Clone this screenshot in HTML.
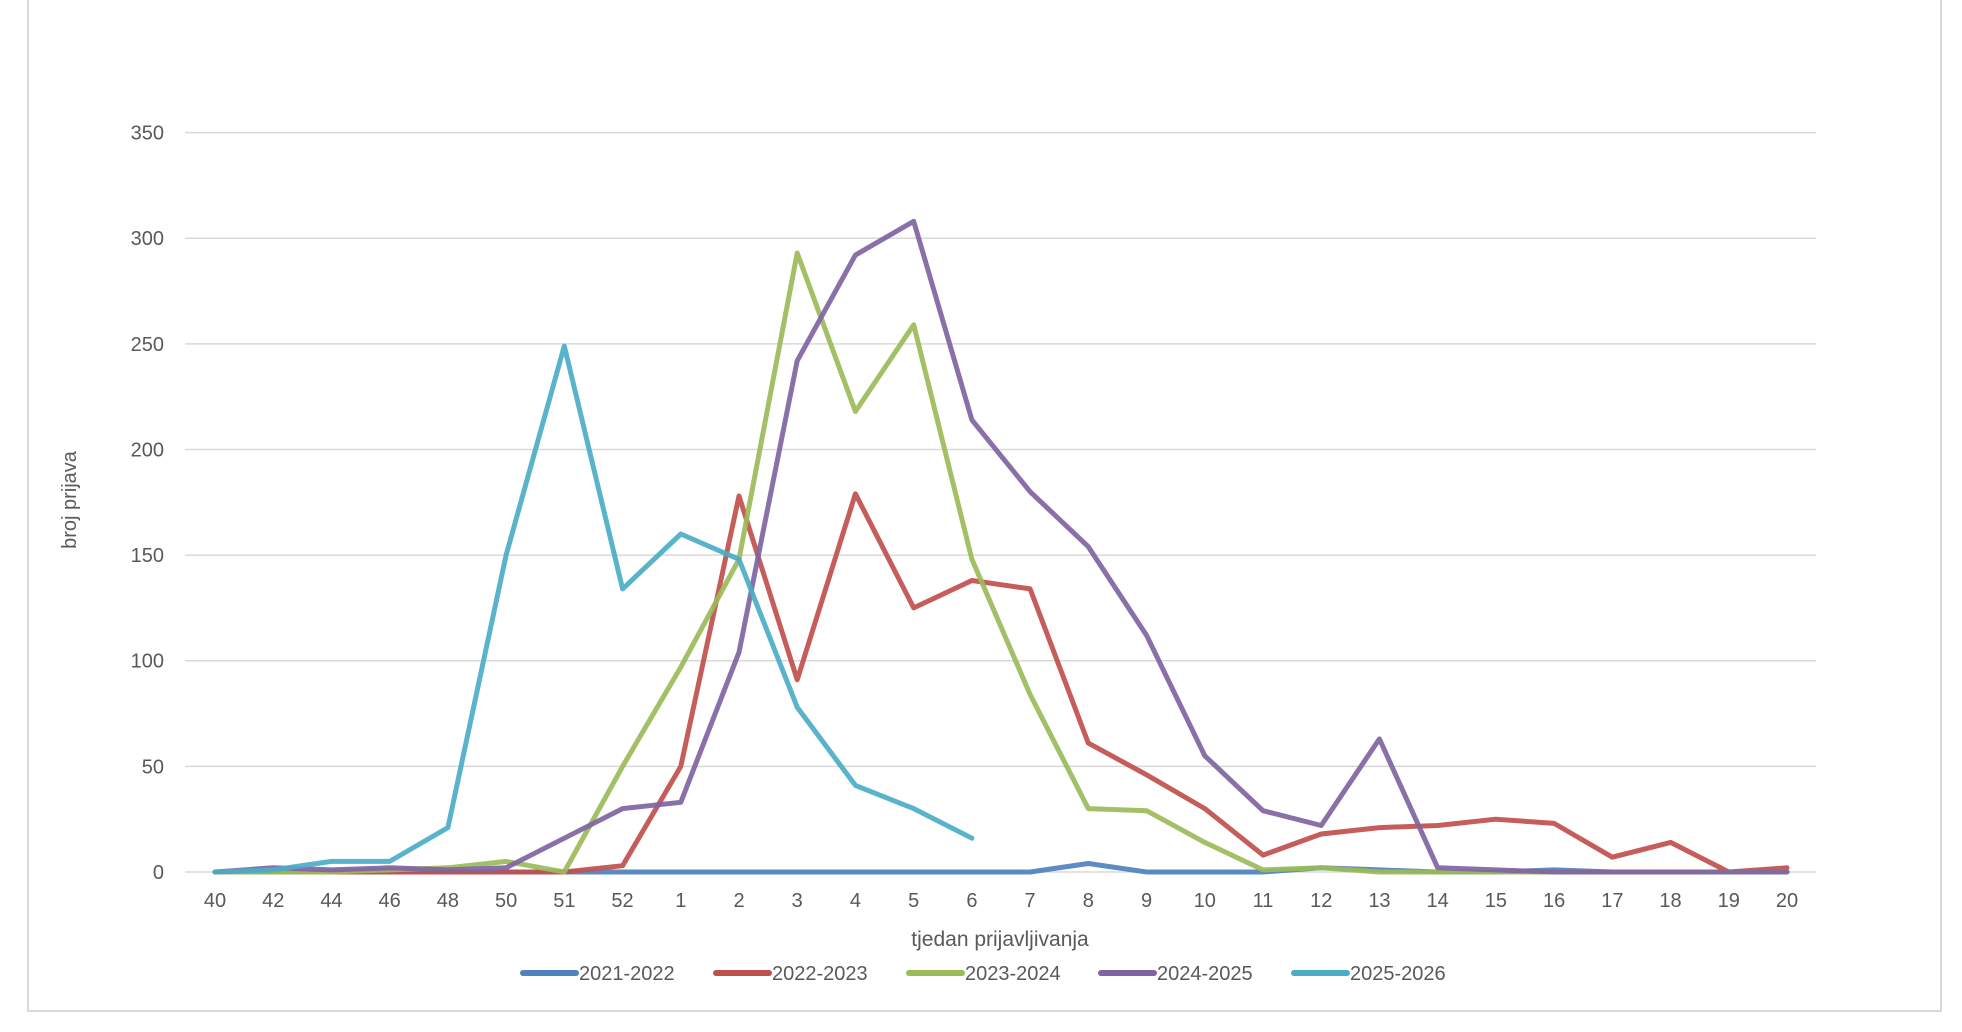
<!DOCTYPE html>
<html><head><meta charset="utf-8"><style>
body{margin:0;background:#fff;}
svg{display:block;font-family:"Liberation Sans",Arial,sans-serif;}
</style></head><body>
<svg id="chart" width="1962" height="1032" viewBox="0 0 1962 1032">
<rect x="28" y="-5" width="1913" height="1016" fill="#fff" stroke="#d9d9d9" stroke-width="2"/>
<g id="grid"></g><g id="xt"></g><g id="series"></g>
<text x="76" y="500" font-size="20" fill="#595959" text-anchor="middle" transform="rotate(-90 76 500)">broj prijava</text>
<text x="1000" y="946" font-size="21" fill="#595959" text-anchor="middle">tjedan prijavljivanja</text>
<g id="legend"></g>
</svg>
<script>
const categories=["40","42","44","46","48","50","51","52","1","2","3","4","5","6","7","8","9","10","11","12","13","14","15","16","17","18","19","20"];
const seriesNames=["2021-2022","2022-2023","2023-2024","2024-2025","2025-2026"];
const colors=["#4f81bd","#c0504d","#9bbb59","#8064a2","#4bacc6"];
const s2122=[0,0,0,0,0,0,0,0,0,0,0,0,0,0,0,4,0,0,0,2,1,0,0,1,0,0,0,0];
const s2223=[0,0,0,0,0,0,0,3,50,178,91,179,125,138,134,61,46,30,8,18,21,22,25,23,7,14,0,2];
const s2324=[0,0,0,1,2,5,0,50,97,148,293,218,259,148,84,30,29,14,1,2,0,0,0,0,0,0,0,0];
const s2425=[0,2,1,2,1,2,16,30,33,104,242,292,308,214,180,154,112,55,29,22,63,2,1,0,0,0,0,0];
const s2526=[0,1,5,5,21,150,249,134,160,148,78,41,30,16];
const yTicks=[0,50,100,150,200,250,300,350];
const allSeries=[s2122,s2223,s2324,s2425,s2526];
const NS="http://www.w3.org/2000/svg";
const X0=215,X1=1787,Y0=872,Y350=132.6,PL=185,PR=1816;
const xs=i=>X0+i*(X1-X0)/(categories.length-1);
const ys=v=>Y0-v*(Y0-Y350)/350;
function mk(t,a,p){const e=document.createElementNS(NS,t);for(const k in a)e.setAttribute(k,a[k]);p.appendChild(e);return e;}
const g=document.getElementById('grid');
yTicks.forEach(v=>{
 const l=mk('line',{x1:PL,x2:PR,y1:ys(v),y2:ys(v),stroke:'#d9d9d9','stroke-width':1.5},g);
 
 
 const t=mk('text',{x:164,y:ys(v)+7,'font-size':20,fill:'#595959','text-anchor':'end'},g);
 t.textContent=v;
 
 
});
const xt=document.getElementById('xt');
categories.forEach((c,i)=>{
 const t=mk('text',{x:xs(i),y:Y0+35,'font-size':20,fill:'#595959','text-anchor':'middle'},xt);
 t.textContent=c;
 
 
});
const sg=document.getElementById('series');
allSeries.forEach((s,k)=>{
 const pts=s.map((v,i)=>xs(i).toFixed(1)+','+ys(v).toFixed(1)).join(' ');
 const p=mk('polyline',{points:pts,fill:'none',stroke:colors[k],'stroke-width':5,'stroke-linejoin':'round','stroke-linecap':'round','stroke-opacity':0.92},sg);
 
 
});
const lg=document.getElementById('legend');
const lx=[523,716,909,1101,1294];
seriesNames.forEach((n,k)=>{
 const l=mk('line',{x1:lx[k],x2:lx[k]+53,y1:973,y2:973,stroke:colors[k],'stroke-width':6,'stroke-linecap':'round'},lg);
 
 
 const t=mk('text',{x:lx[k]+56,y:980,'font-size':20,fill:'#595959'},lg);
 t.textContent=n;
 
 
});
</script>
</body></html>
